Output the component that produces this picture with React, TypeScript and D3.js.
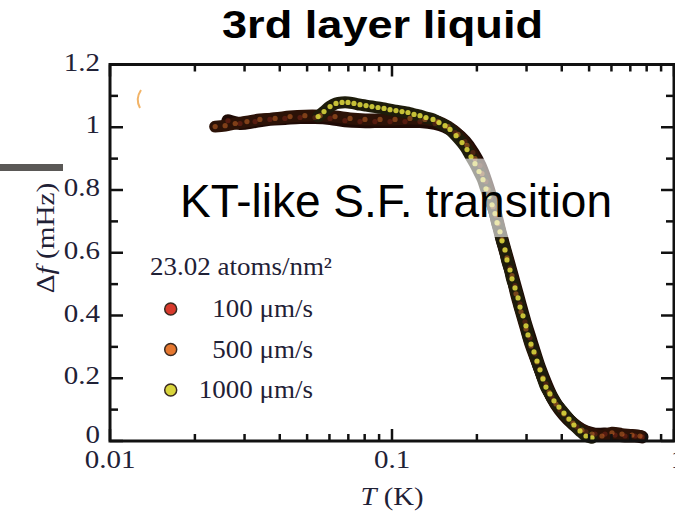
import React, { useEffect, useRef } from "react";
import * as d3 from "d3";

// axis ticks
const yTicks = [0, 0.2, 0.4, 0.6, 0.8, 1, 1.2];
const yTickLabels = ["0", "0.2", "0.4", "0.6", "0.8", "1", "1.2"];
const xTicks = [0.01, 0.1, 1];
const xTickLabels = ["0.01", "0.1", "1"];

// legend
const legendTitle = "23.02 atoms/nm²";
const seriesNames = ["100 μm/s", "500 μm/s", "1000 μm/s"];
const seriesColors = ["#d83a2c", "#e5772f", "#d8d43c"];

// 100 um/s
const t100 = [0.0262, 0.0289, 0.0327, 0.0369, 0.0417, 0.0472, 0.0533, 0.0603, 0.0681, 0.077, 0.087, 0.0984, 0.1112, 0.1257, 0.1421, 0.1542, 0.1673, 0.1815, 0.1937, 0.2051, 0.2154, 0.2244, 0.2338, 0.2415, 0.2516, 0.2621, 0.273, 0.2844, 0.2962, 0.3085, 0.3214, 0.3348, 0.3515, 0.3692, 0.3942, 0.4207, 0.4529, 0.4875, 0.5247, 0.5693, 0.6178, 0.6703, 0.7273, 0.77];
const df100 = [1.021, 1.012, 1.018, 1.025, 1.028, 1.031, 1.031, 1.028, 1.021, 1.018, 1.018, 1.018, 1.018, 1.018, 1.012, 1.002, 0.983, 0.954, 0.919, 0.878, 0.827, 0.776, 0.718, 0.667, 0.609, 0.552, 0.495, 0.437, 0.38, 0.329, 0.278, 0.23, 0.182, 0.14, 0.099, 0.07, 0.045, 0.029, 0.022, 0.022, 0.019, 0.016, 0.016, 0.013];

// 500 um/s
const t500 = [0.0236, 0.0256, 0.0278, 0.0306, 0.034, 0.0385, 0.0435, 0.0491, 0.0556, 0.0628, 0.071, 0.0802, 0.0907, 0.1025, 0.1158, 0.1309, 0.1456, 0.158, 0.1714, 0.1845, 0.1969, 0.2085, 0.219, 0.2281, 0.2376, 0.2455, 0.2557, 0.2664, 0.2752, 0.2867, 0.2986, 0.3111, 0.3267, 0.343, 0.3604, 0.3815, 0.4072, 0.4382, 0.4717, 0.512, 0.5555, 0.6027, 0.6539, 0.7098, 0.7576];
const df500 = [1.002, 1.005, 1.012, 1.018, 1.025, 1.028, 1.034, 1.037, 1.037, 1.034, 1.028, 1.025, 1.025, 1.025, 1.028, 1.025, 1.018, 1.002, 0.977, 0.942, 0.9, 0.852, 0.801, 0.747, 0.693, 0.642, 0.584, 0.527, 0.469, 0.412, 0.357, 0.303, 0.252, 0.201, 0.156, 0.118, 0.086, 0.057, 0.035, 0.022, 0.016, 0.026, 0.022, 0.019, 0.016];

// 1000 um/s
const t1000 = [0.0547, 0.0574, 0.0603, 0.0633, 0.0665, 0.0698, 0.0733, 0.077, 0.0809, 0.0849, 0.0892, 0.0937, 0.0984, 0.1033, 0.1085, 0.1139, 0.1197, 0.1257, 0.132, 0.1398, 0.1468, 0.1542, 0.1606, 0.1687, 0.1771, 0.1845, 0.1906, 0.1969, 0.2035, 0.2102, 0.2154, 0.2208, 0.2263, 0.2319, 0.2357, 0.2415, 0.2455, 0.2516, 0.2557, 0.2621, 0.2664, 0.273, 0.2798, 0.2844, 0.2914, 0.2986, 0.3035, 0.3111, 0.3188, 0.3267, 0.3348, 0.343, 0.3515, 0.3632, 0.3753, 0.3909, 0.4072, 0.4242, 0.4418, 0.4642, 0.4875, 0.512];
const df1000 = [1.034, 1.05, 1.066, 1.076, 1.079, 1.079, 1.076, 1.072, 1.069, 1.066, 1.063, 1.06, 1.056, 1.053, 1.05, 1.047, 1.041, 1.037, 1.031, 1.025, 1.015, 1.005, 0.993, 0.973, 0.951, 0.929, 0.906, 0.884, 0.859, 0.833, 0.804, 0.779, 0.753, 0.725, 0.696, 0.667, 0.638, 0.609, 0.577, 0.545, 0.517, 0.488, 0.456, 0.427, 0.399, 0.367, 0.338, 0.309, 0.284, 0.255, 0.227, 0.198, 0.172, 0.15, 0.128, 0.108, 0.089, 0.07, 0.051, 0.032, 0.016, 0.01];

const W = 675;
const H = 515;
const serif = "'Liberation Serif', 'Times New Roman', serif";
const sans = "'Liberation Sans', Arial, sans-serif";
const labelColor = "#1f2136";

export default function App() {
  const ref = useRef<SVGSVGElement>(null);

  useEffect(() => {
    const svg = d3.select(ref.current);
    svg.selectAll("*").remove();

    const x = d3.scaleLog().domain([0.01, 1]).range([110, 674]);
    const y = d3.scaleLinear().domain([0, 1.2]).range([441, 64.5]);
    const [x0, x1] = x.range();
    const [y0, y1] = y.range();

    svg.append("rect").attr("width", W).attr("height", H).attr("fill", "#fff");

    // stray marks from the source slide
    svg.append("rect").attr("x", 0).attr("y", 164).attr("width", 63).attr("height", 7).attr("fill", "#5a5856");
    svg.append("path").attr("d", "M141,90 Q135,99 140,108").attr("fill", "none").attr("stroke", "#f2b468").attr("stroke-width", 2);

    // title
    svg.append("text")
      .attr("x", 382.5).attr("y", 38)
      .attr("text-anchor", "middle")
      .attr("font-family", sans).attr("font-weight", "bold").attr("font-size", 38)
      .attr("textLength", 321).attr("lengthAdjust", "spacingAndGlyphs")
      .text("3rd layer liquid");

    // data: dense markers merge into a dark band
    const series = [
      { t: t100, v: df100, band: "#1f0a05", w: 13, dot: 0.25 },
      { t: t500, v: df500, band: "#2c1207", w: 12, dot: 0.45 },
      { t: t1000, v: df1000, band: "#1e1c0b", w: 12, dot: 0.9 },
    ];

    const gData = svg.append("g");
    series.forEach((s) => {
      const pts = s.t.map((t, i) => [x(t), y(s.v[i])] as [number, number]);
      gData.append("path")
        .attr("d", d3.line().curve(d3.curveCatmullRom)(pts))
        .attr("fill", "none")
        .attr("stroke", s.band)
        .attr("stroke-width", s.w)
        .attr("stroke-linecap", "round")
        .attr("stroke-linejoin", "round");
    });
    series.forEach((s, k) => {
      gData.append("g").selectAll("circle")
        .data(s.t)
        .join("circle")
        .attr("cx", (t) => x(t))
        .attr("cy", (_, i) => y(s.v[i]))
        .attr("r", 2.6)
        .attr("fill", seriesColors[k])
        .attr("fill-opacity", s.dot);
    });

    // translucent box behind the annotation
    svg.append("rect")
      .attr("x", 165).attr("y", y(0.9)).attr("width", 460).attr("height", y(0.65) - y(0.9))
      .attr("fill", "#fff").attr("fill-opacity", 0.6);

    // frame
    svg.append("rect")
      .attr("x", x0).attr("y", y1).attr("width", x1 - x0).attr("height", y0 - y1)
      .attr("fill", "none").attr("stroke", "#111").attr("stroke-width", 3);

    const gTicks = svg.append("g").attr("stroke", "#111").attr("stroke-width", 2.5);
    x.ticks().forEach((t) => {
      const major = xTicks.some((m) => Math.abs(m - t) < 1e-9);
      const len = major ? 12 : 7;
      gTicks.append("line").attr("x1", x(t)).attr("x2", x(t)).attr("y1", y0).attr("y2", y0 - len);
      gTicks.append("line").attr("x1", x(t)).attr("x2", x(t)).attr("y1", y1).attr("y2", y1 + len);
    });
    d3.range(0, 13).map((i) => i / 10).forEach((v, i) => {
      const len = i % 2 === 0 ? 13 : 8;
      gTicks.append("line").attr("x1", x0).attr("x2", x0 + len).attr("y1", y(v)).attr("y2", y(v));
      gTicks.append("line").attr("x1", x1).attr("x2", x1 - len).attr("y1", y(v)).attr("y2", y(v));
    });

    // tick labels
    yTicks.forEach((v, i) => {
      svg.append("text")
        .attr("transform", `translate(100,${y(v) + (v === 0 ? 2 : 6)}) scale(1.16,1)`)
        .attr("text-anchor", "end")
        .attr("font-family", serif).attr("font-size", 25).attr("fill", labelColor)
        .text(yTickLabels[i]);
    });
    xTicks.forEach((v, i) => {
      svg.append("text")
        .attr("transform", `translate(${x(v) + (v === 1 ? 4 : 0)},468) scale(1.16,1)`)
        .attr("text-anchor", "middle")
        .attr("font-family", serif).attr("font-size", 25).attr("fill", labelColor)
        .text(xTickLabels[i]);
    });

    // axis titles
    const yl = svg.append("text")
      .attr("transform", "translate(54,238) rotate(-90) scale(1.17,1)")
      .attr("text-anchor", "middle")
      .attr("font-family", serif).attr("font-size", 25).attr("fill", labelColor);
    yl.append("tspan").text("Δ");
    yl.append("tspan").attr("font-style", "italic").text("f");
    yl.append("tspan").text(" (mHz)");

    const xl = svg.append("text")
      .attr("transform", "translate(392,505) scale(1.15,1)")
      .attr("text-anchor", "middle")
      .attr("font-family", serif).attr("font-size", 25).attr("fill", labelColor);
    xl.append("tspan").attr("font-style", "italic").text("T");
    xl.append("tspan").text(" (K)");

    // legend
    svg.append("text")
      .attr("transform", "translate(150,275) scale(1.08,1)")
      .attr("font-family", serif).attr("font-size", 25).attr("fill", labelColor)
      .text(legendTitle);
    seriesNames.forEach((name, k) => {
      const ly = 309 + k * 40.5;
      svg.append("circle")
        .attr("cx", 170.7).attr("cy", ly).attr("r", 6)
        .attr("fill", seriesColors[k]).attr("stroke", "#3a2a20").attr("stroke-width", 1.5);
      svg.append("text")
        .attr("transform", `translate(313,${ly + 8}) scale(1.08,1)`)
        .attr("text-anchor", "end")
        .attr("font-family", serif).attr("font-size", 25).attr("fill", labelColor)
        .text(name);
    });

    // annotation
    svg.append("text")
      .attr("x", 180).attr("y", 217)
      .attr("font-family", sans).attr("font-size", 46).attr("fill", "#000")
      .text("KT-like S.F. transition");
  }, []);

  return (
    <svg
      ref={ref}
      width={W}
      height={H}
      style={{ position: "absolute", left: 0, top: 0 }}
    />
  );
}
